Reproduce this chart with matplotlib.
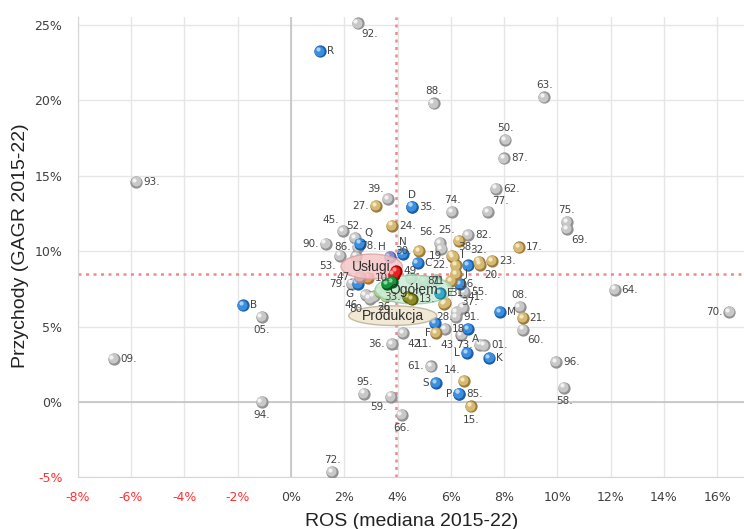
import matplotlib
matplotlib.use("Agg")
import matplotlib.pyplot as plt
import matplotlib.ticker as ticker
from matplotlib.patches import Ellipse
from matplotlib.transforms import ScaledTranslation

# points: label, ROS (median 2015-22, %), revenue CAGR 2015-22 (%), colour group
labels = [
    "92.", "93.", "88.", "63.", "50.", "87.", "62.", "74.", "77.", "75.", "69.",
    "39.", "45.", "52.", "90.", "86.", "78.", "53.", "56.", "", "82.", "79.",
    "46.", "80.", "26.", "55.", "41.", "37.", "91.", "08.", "60.", "18.", "43.",
    "36.", "42.", "73.", "01.", "61.", "95.", "59.", "66.", "94.", "72.", "09.",
    "05.", "64.", "70.", "96.", "58.",
    "R", "D", "35.", "Q", "N", "C", "I", "J", "M", "F", "A", "L", "K", "S",
    "P", "85.", "B", "G",
    "27.", "24.", "30.", "19.", "38.", "25.", "17.", "22.", "16.", "32.", "20.",
    "23.", "81.", "31.", "28.", "21.", "11.", "14.", "15.",
    "H", "10.", "47.",
    "", "", "", "", "", "", "29.",
    "49.", "", "", "", "13.", "33.", "E", "71",
]
ros = [
    2.5, -5.8, 5.35, 9.5, 8.05, 8.0, 7.7, 6.05, 7.4, 10.35, 10.35,
    3.65, 1.95, 2.4, 1.3, 2.5, 2.45, 1.85, 5.6, 5.65, 6.65, 2.3,
    2.8, 2.95, 3.1, 6.5, 6.45, 6.22, 6.2, 8.58, 8.7, 5.78, 6.4,
    3.8, 4.2, 7.1, 7.25, 5.25, 2.75, 3.75, 4.15, -1.1, 1.55, -6.65,
    -1.1, 12.15, 16.45, 9.95, 10.25,
    1.1, 4.55, 4.55, 2.6, 4.2, 4.75, 6.65, 6.35, 7.85, 5.4, 6.65, 6.6, 7.45, 5.45,
    6.3, 6.3, -1.8, 2.5,
    3.2, 3.8, 4.8, 6.05, 6.1, 6.3, 8.55, 6.2, 6.2, 7.05, 7.1,
    7.55, 6.0, 5.8, 5.75, 8.7, 5.45, 6.5, 6.75,
    3.7, 2.9, 2.6,
    4.5, 5.0, 5.45, 3.7, 4.0, 3.35, 3.55,
    3.95, 3.85, 3.6, 3.8, 4.55, 4.4, 5.6, 5.0,
]
growth = [
    25.1, 14.6, 19.8, 20.2, 17.35, 16.15, 14.15, 12.6, 12.6, 11.95, 11.45,
    13.45, 11.35, 10.85, 10.5, 10.3, 9.65, 9.7, 10.55, 10.15, 11.05, 7.85,
    7.1, 6.85, 7.0, 7.3, 6.25, 5.95, 5.65, 6.3, 4.8, 4.85, 4.45,
    3.85, 4.55, 3.8, 3.75, 2.35, 0.55, 0.35, -0.85, 0.0, -4.65, 2.85,
    5.65, 7.45, 5.95, 2.65, 0.95,
    23.25, 12.95, 12.95, 10.5, 9.8, 9.2, 9.05, 7.8, 5.95, 5.25, 4.85, 3.25, 2.9, 1.25,
    0.55, 0.55, 6.4, 7.85,
    13.0, 11.7, 10.0, 9.7, 9.6, 10.7, 10.25, 9.05, 8.5, 9.3, 9.1,
    9.35, 8.0, 6.55, 6.5, 5.55, 4.55, 1.4, -0.3,
    9.6, 8.25, 8.3,
    8.2, 8.0, 8.1, 7.1, 7.25, 7.3, 7.0,
    8.65, 8.45, 7.8, 7.95, 6.8, 6.95, 7.2, 8.0,
]
groups = (
    ["gray"] * 49
    + ["blue"] * 18
    + ["gold"] * 19
    + ["purple", "orange", "pink"]
    + ["pale", "pale", "pale", "lime", "lime", "lime", "lime"]
    + ["red", "red", "green", "green", "olive", "olive", "teal", "pale"]
)

# aggregate bubbles
agg_names = ["Usługi", "Ogółem", "Produkcja"]
agg_ros = [3.03, 4.61, 3.82]
agg_growth = [8.98, 7.45, 5.72]

x_ticks = [-8, -6, -4, -2, 0, 2, 4, 6, 8, 10, 12, 14, 16]
y_ticks = [-5, 0, 5, 10, 15, 20, 25]
median_ros = 3.95
median_growth = 8.5

# label placement (offset in points, ha, va)
place = {
    "r": (5, 0, "left", "center"), "l": (-5, 0, "right", "center"),
    "a": (0, 5, "center", "bottom"), "b": (0, -6, "center", "top"),
    "ar": (3, 4, "left", "bottom"), "al": (-3, 4, "right", "bottom"),
    "br": (3, -4, "left", "top"), "bl": (-3, -4, "right", "top"),
}
label_pos = {
    "92.": "br", "88.": "a", "63.": "a", "50.": "a", "74.": "a", "77.": "ar",
    "75.": "a", "69.": "br", "39.": "al", "45.": "al", "52.": "a", "90.": "l",
    "86.": "l", "78.": "ar", "53.": "bl", "56.": "al", "79.": "l", "46.": "bl",
    "80.": "bl", "26.": "br", "41.": "ar", "37.": "ar", "08.": "a", "60.": "br",
    "43.": "bl", "36.": "l", "42.": "br", "73.": "l", "61.": "l", "95.": "a",
    "59.": "bl", "66.": "b", "94.": "b", "72.": "a", "05.": "b", "70.": "l",
    "58.": "b", "D": "a", "Q": "ar", "N": "a", "I": "al", "J": "ar", "F": "bl",
    "A": "br", "L": "l", "S": "l", "P": "l", "G": "bl", "27.": "l", "30.": "l",
    "19.": "l", "38.": "ar", "25.": "al", "22.": "l", "16.": "br", "32.": "a",
    "20.": "br", "81.": "l", "31.": "ar", "28.": "b", "11.": "bl", "14.": "al",
    "15.": "b", "H": "al", "47.": "l", "29.": "b", "33.": "l", "71": "r",
}

colors = {
    "gray": ("#929292", "#c8c8c8", "#f6f6f6"),
    "blue": ("#1d5ea8", "#3b8fe0", "#b0d6f8"),
    "gold": ("#9c7c3c", "#d6ba74", "#f6ecc8"),
    "purple": ("#5a5aa0", "#8a8ad0", "#d0d0f0"),
    "orange": ("#b07030", "#e0a060", "#f8dcc0"),
    "pink": ("#b08a8a", "#d8b0b0", "#f4e4e4"),
    "pale": ("#7ea08a", "#a8c8b2", "#e4f0e8"),
    "lime": ("#88a860", "#b8d48c", "#eaf4d8"),
    "red": ("#a00000", "#e42020", "#ff9a9a"),
    "green": ("#005a18", "#14963a", "#8ae0a0"),
    "olive": ("#5a5a10", "#8c8c24", "#d8d890"),
    "teal": ("#1a7a90", "#38aac4", "#b0e4f0"),
}
front = {"red", "green", "olive", "teal"}
narrow = ["Liberation Sans", "DejaVu Sans"]

fig = plt.figure(figsize=(7.44, 5.29), dpi=100)
ax = fig.add_axes([77.7 / 744, 1 - 477.3 / 529, 1 - 77.7 / 744, 460.3 / 529])
ax.set_xlim(-8, 17)
ax.set_ylim(-5, 25.53)

ax.set_xticks(x_ticks)
ax.set_yticks(y_ticks)
ax.xaxis.set_major_formatter(ticker.FuncFormatter(lambda v, p: f"{v:.0f}%"))
ax.yaxis.set_major_formatter(ticker.FuncFormatter(lambda v, p: f"{v:.0f}%"))
ax.tick_params(length=0, labelsize=9, labelcolor="#404040")
ax.tick_params(axis="y", pad=11)
ax.tick_params(axis="x", pad=10)
for t in ax.get_xticklabels() + ax.get_yticklabels():
    if t.get_text().startswith("-") or t.get_text().startswith("−"):
        t.set_color("#ff3030")

ax.grid(True, color="#e6e6e6", linewidth=1)
ax.set_axisbelow(True)
for s in ["top", "right"]:
    ax.spines[s].set_visible(False)
for s in ["left", "bottom"]:
    ax.spines[s].set_color("#d6d6d6")
ax.axhline(0, color="#c4c4c4", linewidth=1.2, zorder=1)
ax.axvline(0, color="#c4c4c4", linewidth=1.2, zorder=1)
ax.axhline(median_growth, color="#f08a8a", linestyle=(0, (1.2, 1.8)), linewidth=1.8, zorder=2)
ax.axvline(median_ros, color="#f08a8a", linestyle=(0, (1.2, 1.8)), linewidth=1.8, zorder=2)


def spheres(xs, ys, grp, z):
    dark, mid, light = colors[grp]
    shift1 = ax.transData + ScaledTranslation(-0.6 / 72, 0.6 / 72, fig.dpi_scale_trans)
    shift2 = ax.transData + ScaledTranslation(-1.6 / 72, 1.6 / 72, fig.dpi_scale_trans)
    ax.scatter(xs, ys, s=78, color=dark, linewidths=0, zorder=z)
    ax.scatter(xs, ys, s=52, color=mid, linewidths=0, zorder=z, transform=shift1)
    ax.scatter(xs, ys, s=9, color=light, linewidths=0, zorder=z, alpha=0.95, transform=shift2)


for grp in colors:
    xs = [x for x, g in zip(ros, groups) if g == grp]
    ys = [y for y, g in zip(growth, groups) if g == grp]
    spheres(xs, ys, grp, 6 if grp in front else 3)

# aggregate bubbles
agg_style = [
    (2.3, 1.65, "#f5c4c6", "#d8a0a4"),
    (2.9, 1.9, "#c8ecd4", "#98c8a8"),
    (3.3, 1.3, "#eee4cc", "#b8ae94"),
]
for name, x, y, (w, h, fc, ec) in zip(agg_names, agg_ros, agg_growth, agg_style):
    ax.add_patch(Ellipse((x, y), w, h, facecolor=fc, edgecolor=ec, linewidth=1,
                         alpha=0.82, zorder=5))
    ax.text(x, y, name, ha="center", va="center", fontsize=10, color="#303030",
            family=narrow, zorder=8)

for lab, x, y in zip(labels, ros, growth):
    if not lab:
        continue
    dx, dy, ha, va = place[label_pos.get(lab, "r")]
    ax.annotate(lab, (x, y), xytext=(dx, dy), textcoords="offset points",
                ha=ha, va=va, fontsize=7.5, color="#444444", zorder=7)

fig.text(20.5 / 744, 1 - 246 / 529, "Przychody (GAGR 2015-22)", rotation=90,
         ha="center", va="center", fontsize=14, color="#222222", family=narrow)
fig.text(412 / 744, 1 - 522 / 529, "ROS (mediana 2015-22)",
         ha="center", va="center", fontsize=14, color="#222222", family=narrow)

fig.savefig("out.png", dpi=100)
